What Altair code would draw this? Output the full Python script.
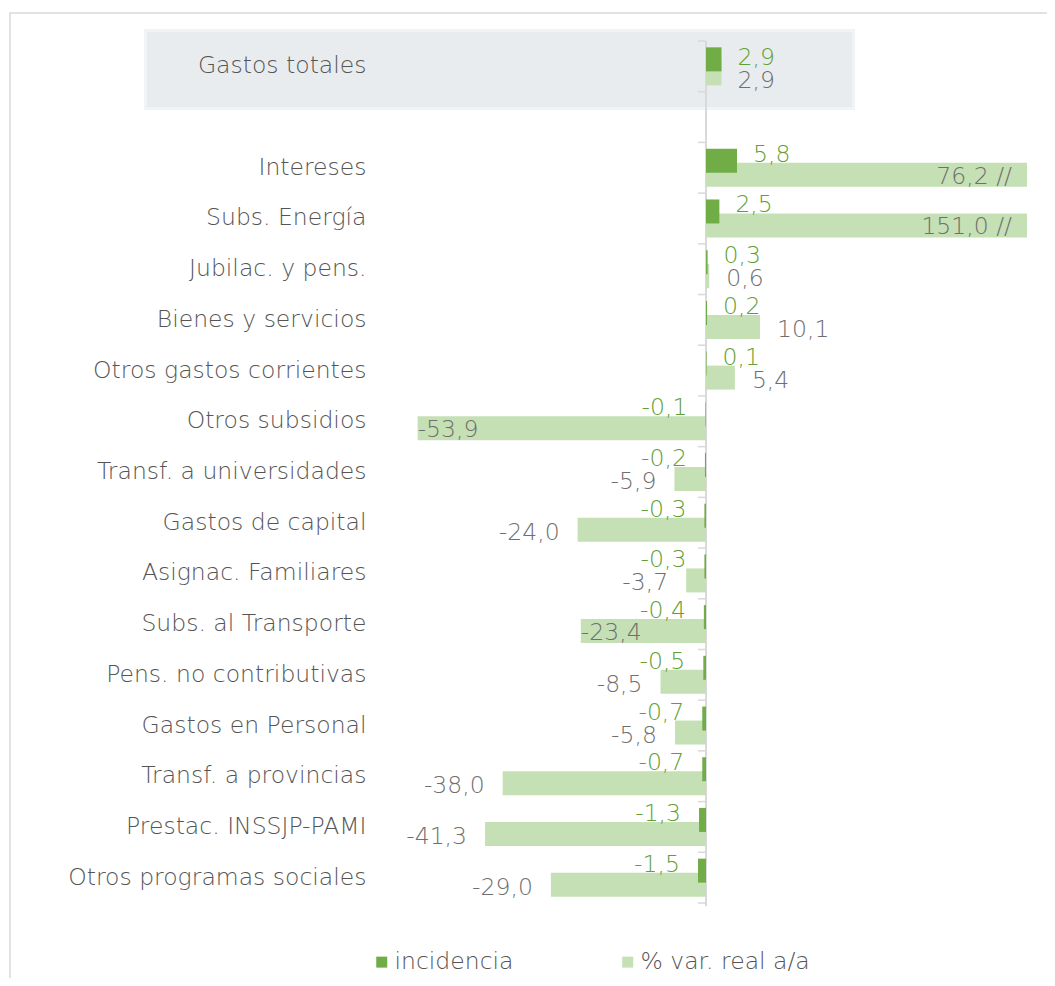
import altair as alt
import pandas as pd

categories = ["Gastos totales", "Intereses", "Subs. Energía", "Jubilac. y pens.",
              "Bienes y servicios", "Otros gastos corrientes", "Otros subsidios",
              "Transf. a universidades", "Gastos de capital", "Asignac. Familiares",
              "Subs. al Transporte", "Pens. no contributivas", "Gastos en Personal",
              "Transf. a provincias", "Prestac. INSSJP-PAMI", "Otros programas sociales"]
incidencia = [2.9, 5.8, 2.5, 0.3, 0.2, 0.1, -0.1, -0.2, -0.3, -0.3, -0.4, -0.5,
              -0.7, -0.7, -1.3, -1.5]
var_real = [2.9, 76.2, 151.0, 0.6, 10.1, 5.4, -53.9, -5.9, -24.0, -3.7, -23.4,
            -8.5, -5.8, -38.0, -41.3, -29.0]
series_names = ["incidencia", "% var. real a/a"]
series_colors = ["#70ad47", "#c5e0b4"]
total_cat = "Gastos totales"
inside_label_cats = ["Otros subsidios", "Subs. al Transporte"]
x_domain = [-60, 60]

FONT = "DejaVu Sans"
FW = 200
FS = 23.5
W, H = 642, 862
STEP = H / 17
GREEN = "#70ad47"
GREEN_TXT = "#5fa035"
GREY_TXT = "#6f6f6f"
CAT_TXT = "#555555"
LINE = "#d9d9d9"

row_domain = [categories[0], " "] + categories[1:]


def fmt(v):
    return f"{v:.1f}".replace(".", ",")


rows = []
for c, i, v in zip(categories, incidencia, var_real):
    rows.append(dict(cat=c, series=series_names[0], value=i, shown=i, label=fmt(i),
                     total=(c == total_cat), inside=False, capped=False, zero=0))
    capped = v > x_domain[1]
    rows.append(dict(cat=c, series=series_names[1], value=v, shown=min(v, x_domain[1]),
                     label=fmt(v) + (" //" if capped else ""),
                     total=(c == total_cat), inside=(c in inside_label_cats),
                     capped=capped, zero=0))
df = pd.DataFrame(rows)
one = pd.DataFrame({"zero": [0]})
ticks_df = pd.DataFrame({"cat": row_domain, "zero": [0] * len(row_domain)})

yscale = alt.Scale(domain=row_domain, paddingInner=0, paddingOuter=0)
yaxis = alt.Axis(title=None, domain=False, ticks=False, labelPadding=19, labelFontSize=FS,
                 labelFont=FONT, labelColor=CAT_TXT, labelFontWeight=FW, zindex=1,
                 labelLimit=400)
xscale = alt.Scale(domain=x_domain, nice=False, zero=False)


def Y():
    return alt.Y("cat:N", scale=yscale, axis=yaxis, title=None)


def X(f):
    return alt.X(f, scale=xscale, axis=None, title=None)


color = alt.Color("series:N", scale=alt.Scale(domain=series_names, range=series_colors),
                  legend=alt.Legend(title=None, orient="none", legendX=-15, legendY=909,
                                    direction="horizontal", symbolType="square",
                                    symbolSize=121, symbolStrokeWidth=0, labelFontSize=FS,
                                    labelFont=FONT, labelColor=CAT_TXT, labelFontWeight=FW,
                                    labelOffset=1, columnPadding=102, labelLimit=400))

frame = alt.Chart(one).mark_rect(fillOpacity=0, stroke=LINE, strokeWidth=1.5).encode(
    x=alt.value(-375), x2=alt.value(W + 100), y=alt.value(-28), y2=alt.value(H + 200))
glow = alt.Chart(one).mark_rect(color="#f1f4f6").encode(
    x=alt.value(-241), x2=alt.value(470), y=alt.value(-12), y2=alt.value(69))
box = alt.Chart(one).mark_rect(color="#e8ecef").encode(
    x=alt.value(-238), x2=alt.value(467), y=alt.value(-9), y2=alt.value(66))

zero_line = alt.Chart(one).mark_rule(color=LINE, strokeWidth=2).encode(
    x=X("zero:Q"), y=alt.value(0), y2=alt.value(H + 3))
ticks = alt.Chart(ticks_df).mark_rule(color=LINE, strokeWidth=1.5, xOffset=-8,
                                      yOffset=-STEP / 2).encode(
    x=X("zero:Q"), x2="zero:Q", y=Y())
last_tick = alt.Chart(one).mark_rule(color=LINE, strokeWidth=1.5, xOffset=-8).encode(
    x=X("zero:Q"), x2="zero:Q", y=alt.value(H))

base = alt.Chart(df)
var_bars = base.transform_filter(alt.datum.series == series_names[1]).mark_bar(
    size=24, yOffset=7, clip=True).encode(x=X("value:Q"), y=Y(), color=color)
inc_bars = base.transform_filter(alt.datum.series == series_names[0]).mark_bar(
    size=24, yOffset=-7).encode(x=X("value:Q"), y=Y(), color=color)


def txt(filt, align, dx, dy, col, xfield="value:Q"):
    return base.transform_filter(filt).mark_text(
        align=align, baseline="middle", dx=dx, dy=dy, font=FONT, fontSize=FS,
        fontWeight=FW, color=col).encode(x=X(xfield), y=Y(), text="label:N")


is_inc = "datum.series == 'incidencia'"
is_var = "datum.series == '% var. real a/a'"

t1 = txt(f"{is_inc} && !datum.total && datum.value >= 0", "left", 16, -13, GREEN_TXT)
t2 = txt(f"{is_inc} && !datum.total && datum.value < 0", "right", -18, -13, GREEN_TXT)
t3 = txt(f"{is_var} && !datum.total && datum.value >= 0 && !datum.capped", "left", 17, 10, GREY_TXT)
t4 = txt(f"{is_var} && !datum.total && datum.value < 0 && !datum.inside", "right", -18, 10, GREY_TXT)
t5 = txt(f"{is_var} && datum.inside", "left", 0, 9, GREY_TXT)
t6 = txt(f"{is_var} && datum.capped", "right", -15, 9, GREY_TXT, xfield="shown:Q")
t7 = txt(f"{is_inc} && datum.total", "left", 16, -8, GREEN_TXT)
t8 = txt(f"{is_var} && datum.total", "left", 16, 15, GREY_TXT)

chart = alt.layer(frame, glow, box, zero_line, ticks, last_tick, var_bars, inc_bars,
                  t1, t2, t3, t4, t5, t6, t7, t8).properties(
    width=W, height=H,
    autosize=alt.AutoSizeParams(type="none"),
    padding={"left": 377, "top": 33, "right": 20, "bottom": 75},
).configure_view(stroke=None)

chart.save("out.html", embed_options={"renderer": "svg", "actions": False})
